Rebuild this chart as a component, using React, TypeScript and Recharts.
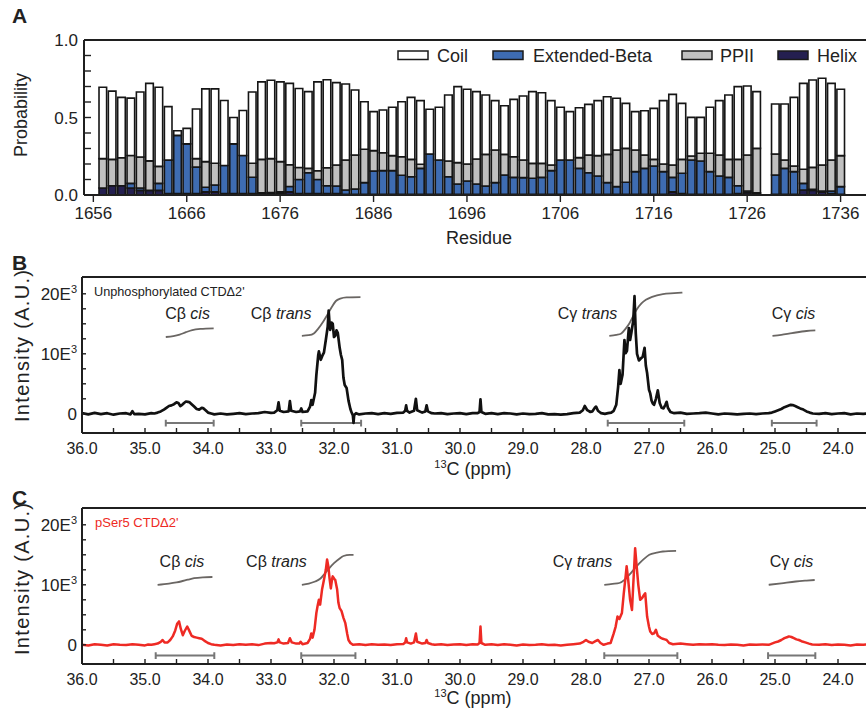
import React from 'react';
import { ComposedChart, Bar, Line, XAxis, YAxis, ReferenceLine, ReferenceDot } from 'recharts';

const FONT = '"Liberation Sans", Arial, Helvetica, sans-serif';
const INK = '#1f1f1f';

// ---------------- Panel A data ----------------
const RESIDUES = [
  1657, 1658, 1659, 1660, 1661, 1662, 1663, 1664, 1665, 1666, 1667, 1668, 1669, 1670, 1671, 1672, 1673, 1674, 1675, 1676,
  1677, 1678, 1679, 1680, 1681, 1682, 1683, 1684, 1685, 1686, 1687, 1688, 1689, 1690, 1691, 1692, 1693, 1694, 1695, 1696,
  1697, 1698, 1699, 1700, 1701, 1702, 1703, 1704, 1705, 1706, 1707, 1708, 1709, 1710, 1711, 1712, 1713, 1714, 1715, 1716,
  1717, 1718, 1719, 1720, 1721, 1722, 1723, 1724, 1725, 1726, 1727, 1729, 1730, 1731, 1732, 1733, 1734, 1735, 1736,
];
const HELIX = [
  0.045, 0.06, 0.06, 0.045, 0.03, 0.03, 0.03, 0.01, 0.01, 0.01, 0.01, 0.02, 0.02, 0.01, 0.01, 0.01, 0.01, 0.01, 0.01, 0.01,
  0.02, 0.01, 0.01, 0.01, 0.01, 0.01, 0.005, 0.005, 0.005, 0.005, 0.005, 0.005, 0.005, 0.005, 0.005, 0.005, 0.005, 0.005, 0.005, 0.005,
  0.005, 0.005, 0.005, 0.005, 0.005, 0.005, 0.005, 0.005, 0.005, 0.005, 0.005, 0.005, 0.005, 0.005, 0.005, 0.005, 0.005, 0.005, 0.005, 0.005,
  0.005, 0.02, 0.01, 0.005, 0.005, 0.005, 0.005, 0.005, 0.01, 0.015, 0.01, 0.005, 0.005, 0.005, 0.032, 0.03, 0.02, 0.01, 0.005,
];
const EXT_BETA = [
  0.0, 0.0, 0.0, 0.03, 0.015, 0.0, 0.045, 0.215, 0.375, 0.32, 0.17, 0.03, 0.045, 0.18, 0.32, 0.245, 0.105, 0.005, 0.005, 0.01,
  0.035, 0.09, 0.134, 0.09, 0.05, 0.048, 0.027, 0.034, 0.075, 0.15, 0.152, 0.152, 0.122, 0.113, 0.167, 0.26, 0.221, 0.113, 0.066, 0.085,
  0.066, 0.053, 0.075, 0.124, 0.109, 0.107, 0.103, 0.109, 0.152, 0.221, 0.221, 0.167, 0.139, 0.118, 0.075, 0.049, 0.077, 0.146, 0.167, 0.182,
  0.146, 0.094, 0.13, 0.221, 0.214, 0.146, 0.118, 0.109, 0.05, 0.011, 0.005, 0.124, 0.167, 0.146, 0.043, 0.007, 0.005, 0.016, 0.049,
];
const PPII = [
  0.19, 0.17, 0.18, 0.18, 0.2, 0.19, 0.11, 0.0, 0.0, 0.0, 0.055, 0.165, 0.14, 0.0, 0.0, 0.0, 0.09, 0.215, 0.22, 0.195,
  0.14, 0.077, 0.028, 0.056, 0.116, 0.136, 0.194, 0.219, 0.215, 0.131, 0.116, 0.097, 0.12, 0.112, 0.026, 0.0, 0.0, 0.101, 0.138, 0.11,
  0.161, 0.204, 0.21, 0.133, 0.133, 0.114, 0.096, 0.09, 0.037, 0.0, 0.0, 0.069, 0.114, 0.131, 0.182, 0.236, 0.219, 0.139, 0.086, 0.043,
  0.049, 0.08, 0.09, 0.026, 0.05, 0.118, 0.135, 0.116, 0.17, 0.232, 0.286, 0.136, 0.054, 0.036, 0.091, 0.141, 0.169, 0.2, 0.2,
];
const COIL = [
  0.46, 0.44, 0.39, 0.37, 0.42, 0.5, 0.51, 0.345, 0.03, 0.1, 0.32, 0.47, 0.48, 0.42, 0.17, 0.29, 0.46, 0.5, 0.505, 0.515,
  0.525, 0.51, 0.495, 0.574, 0.568, 0.531, 0.49, 0.419, 0.307, 0.252, 0.275, 0.312, 0.355, 0.4, 0.411, 0.288, 0.34, 0.426, 0.49, 0.482,
  0.435, 0.383, 0.319, 0.314, 0.37, 0.413, 0.463, 0.456, 0.415, 0.34, 0.312, 0.322, 0.327, 0.355, 0.372, 0.334, 0.29, 0.248, 0.286, 0.329,
  0.409, 0.455, 0.361, 0.249, 0.232, 0.297, 0.351, 0.415, 0.469, 0.445, 0.366, 0.322, 0.361, 0.443, 0.554, 0.564, 0.559, 0.494, 0.428,
];
const RESIDUE_TICKS = [1656, 1666, 1676, 1686, 1696, 1706, 1716, 1726, 1736];
const PROB_TICKS = [0, 0.1, 0.2, 0.3, 0.4, 0.5, 0.6, 0.7, 0.8, 0.9, 1.0];
const PROB_LABELED = [0, 0.5, 1.0];

const SERIES_COLORS = { coil: '#ffffff', beta: '#3e6cb2', ppii: '#c0c0c0', helix: '#241f50' };
const LEGEND_ITEMS = [
  { name: 'Coil', key: 'coil' },
  { name: 'Extended-Beta', key: 'beta' },
  { name: 'PPII', key: 'ppii' },
  { name: 'Helix', key: 'helix' },
];
const LEGEND_POS = [
  { sx: 398, tx: 437 },
  { sx: 493, tx: 533 },
  { sx: 682, tx: 720 },
  { sx: 778, tx: 817 },
];

// ---------------- Panels B / C data (ppm, intensity in 1E3 units) ----------------
const SPECTRUM_UNPHOS: [number, number][] = [
  [36.0, 0.1], [35.9, -0.1], [35.8, 0.15], [35.7, -0.05], [35.6, 0.1], [35.5, -0.15], [35.4, 0.05], [35.3, 0.1], [35.23, -0.1],
  [35.2, 0.45], [35.17, -0.05], [35.1, 0.0], [35.0, -0.1], [34.9, 0.1], [34.85, 0.05], [34.8, 0.2], [34.75, 0.4], [34.7, 0.7],
  [34.66, 1.0], [34.62, 1.3], [34.58, 1.4], [34.54, 1.6], [34.5, 1.9], [34.47, 1.8], [34.44, 1.3], [34.41, 1.5], [34.38, 1.8],
  [34.35, 2.05], [34.32, 2.0], [34.29, 1.9], [34.26, 1.6], [34.22, 1.2], [34.18, 0.8], [34.14, 0.7], [34.1, 1.0], [34.07, 0.9],
  [34.03, 0.5], [34.0, 0.2], [33.95, 0.05], [33.9, -0.1], [33.8, 0.05], [33.7, -0.1], [33.6, 0.0], [33.5, 0.1], [33.4, -0.05],
  [33.3, 0.05], [33.2, 0.1], [33.1, 0.3], [33.0, 0.15], [32.95, 0.2], [32.9, 0.6], [32.88, 1.9], [32.86, 0.5], [32.8, 0.3],
  [32.72, 0.4], [32.7, 2.1], [32.68, 0.5], [32.6, 0.3], [32.54, 0.4], [32.52, 0.9], [32.5, 0.3], [32.42, 0.4], [32.38, 1.2],
  [32.36, 2.3], [32.34, 1.5], [32.3, 3.5], [32.28, 6.5], [32.25, 9.8], [32.24, 10.4], [32.21, 9.0], [32.18, 9.8], [32.16, 10.2],
  [32.13, 12.3], [32.1, 14.5], [32.085, 17.2], [32.07, 15.0], [32.06, 14.0], [32.04, 15.2], [32.02, 15.0], [32.0, 12.8],
  [31.98, 13.0], [31.96, 13.9], [31.94, 13.5], [31.91, 11.0], [31.89, 9.8], [31.87, 9.0], [31.85, 6.0], [31.83, 4.8], [31.8, 4.3],
  [31.77, 2.2], [31.74, 0.8], [31.72, 0.2], [31.7, -0.3], [31.69, -1.5], [31.68, -0.2], [31.65, 0.1], [31.6, -0.1], [31.5, 0.05],
  [31.4, 0.1], [31.3, -0.05], [31.2, 0.1], [31.1, 0.0], [31.0, 0.15], [30.9, 0.2], [30.87, 0.5], [30.855, 1.4], [30.84, 0.5],
  [30.8, 0.2], [30.73, 0.5], [30.7, 2.5], [30.68, 0.6], [30.6, 0.2], [30.55, 0.4], [30.53, 1.4], [30.51, 0.4], [30.45, 0.1],
  [30.4, 0.05], [30.3, 0.1], [30.2, -0.05], [30.1, 0.05], [30.0, 0.1], [29.9, -0.05], [29.8, 0.1], [29.72, 0.1], [29.69, 0.3],
  [29.675, 2.4], [29.66, 0.3], [29.6, 0.0], [29.5, 0.1], [29.4, -0.05], [29.3, 0.1], [29.2, 0.05], [29.1, -0.1], [29.0, 0.05],
  [28.9, -0.05], [28.8, 0.0], [28.7, 0.1], [28.6, -0.1], [28.5, -0.05], [28.4, -0.15], [28.3, -0.05], [28.2, 0.1], [28.1, 0.2],
  [28.05, 0.6], [28.02, 1.3], [27.98, 0.6], [27.93, 0.3], [27.9, 0.4], [27.86, 1.0], [27.84, 1.2], [27.81, 0.5], [27.76, 0.1],
  [27.7, 0.0], [27.65, 0.1], [27.6, 0.2], [27.56, 0.5], [27.52, 1.5], [27.49, 4.5], [27.47, 7.3], [27.45, 5.0], [27.42, 6.5],
  [27.39, 12.3], [27.37, 10.1], [27.35, 10.5], [27.32, 14.3], [27.3, 12.3], [27.28, 13.5], [27.25, 15.5], [27.23, 19.6],
  [27.21, 13.4], [27.19, 10.0], [27.16, 8.9], [27.13, 9.2], [27.1, 9.5], [27.07, 11.0], [27.05, 8.0], [27.03, 6.8], [27.0, 4.0],
  [26.98, 3.4], [26.96, 2.2], [26.94, 1.7], [26.92, 1.5], [26.89, 2.5], [26.86, 3.9], [26.83, 1.8], [26.8, 1.0], [26.77, 0.9],
  [26.74, 1.5], [26.72, 2.0], [26.7, 1.0], [26.66, 0.3], [26.6, 0.1], [26.5, 0.2], [26.4, 0.0], [26.3, 0.05], [26.2, 0.1],
  [26.1, 0.2], [26.0, 0.05], [25.9, -0.1], [25.8, 0.05], [25.7, 0.0], [25.6, -0.1], [25.5, 0.0], [25.4, 0.05], [25.3, -0.05],
  [25.2, 0.05], [25.1, 0.1], [25.05, 0.2], [25.0, 0.4], [24.95, 0.6], [24.9, 0.8], [24.85, 1.1], [24.8, 1.3], [24.75, 1.5],
  [24.72, 1.45], [24.68, 1.3], [24.64, 1.1], [24.6, 0.9], [24.55, 0.7], [24.5, 0.4], [24.45, 0.2], [24.4, 0.05], [24.3, 0.0],
  [24.2, 0.1], [24.1, -0.05], [24.0, 0.05], [23.9, 0.1], [23.8, -0.1], [23.7, 0.05], [23.6, 0.0], [23.5, 0.1], [23.4, 0.0],
];
const SPECTRUM_PSER5: [number, number][] = [
  [36.0, 0.0], [35.9, -0.1], [35.8, 0.1], [35.7, 0.0], [35.6, -0.1], [35.5, 0.1], [35.4, 0.0], [35.3, -0.05], [35.2, 0.1],
  [35.1, 0.0], [35.0, -0.1], [34.95, 0.05], [34.9, 0.0], [34.85, 0.1], [34.8, 0.2], [34.75, 0.5], [34.72, 0.8], [34.69, 0.4],
  [34.64, 0.4], [34.6, 0.8], [34.56, 1.4], [34.52, 2.4], [34.49, 3.5], [34.46, 3.9], [34.43, 2.6], [34.4, 1.6], [34.37, 2.3],
  [34.33, 3.05], [34.3, 2.4], [34.26, 1.5], [34.22, 1.3], [34.18, 1.2], [34.14, 1.1], [34.1, 1.0], [34.06, 0.7], [34.0, 0.3],
  [33.95, 0.1], [33.9, 0.0], [33.8, -0.1], [33.7, 0.05], [33.6, -0.05], [33.5, 0.1], [33.4, 0.0], [33.3, 0.1], [33.2, -0.05],
  [33.1, 0.2], [33.0, 0.3], [32.95, 0.25], [32.9, 0.4], [32.88, 0.9], [32.86, 0.4], [32.8, 0.2], [32.73, 0.3], [32.7, 1.1],
  [32.67, 0.4], [32.6, 0.2], [32.55, 0.2], [32.53, 0.5], [32.5, 0.1], [32.42, 0.3], [32.38, 1.0], [32.36, 1.9], [32.34, 1.2],
  [32.31, 2.5], [32.28, 5.3], [32.26, 6.5], [32.24, 7.5], [32.22, 6.7], [32.19, 9.2], [32.16, 10.8], [32.13, 12.5], [32.11, 14.2],
  [32.09, 13.1], [32.07, 11.0], [32.05, 9.4], [32.03, 11.0], [32.02, 11.4], [31.99, 10.9], [31.98, 10.8], [31.95, 9.2],
  [31.93, 7.0], [31.91, 6.1], [31.88, 5.6], [31.85, 4.5], [31.82, 3.6], [31.79, 1.8], [31.77, 0.8], [31.74, 0.3], [31.7, 0.0],
  [31.6, 0.1], [31.5, -0.05], [31.4, 0.1], [31.3, 0.0], [31.2, 0.05], [31.1, -0.05], [31.0, 0.1], [30.9, 0.15], [30.87, 0.4],
  [30.855, 1.1], [30.84, 0.4], [30.78, 0.2], [30.73, 0.4], [30.7, 1.9], [30.68, 0.5], [30.6, 0.2], [30.55, 0.3], [30.53, 0.8],
  [30.51, 0.3], [30.45, 0.1], [30.4, 0.0], [30.3, 0.1], [30.2, -0.05], [30.1, 0.05], [30.0, 0.1], [29.9, -0.05], [29.8, 0.1],
  [29.72, 0.05], [29.69, 0.3], [29.675, 3.05], [29.66, 0.3], [29.6, 0.0], [29.5, 0.1], [29.4, -0.05], [29.3, 0.1], [29.2, 0.0],
  [29.1, -0.1], [29.0, 0.05], [28.9, -0.05], [28.8, 0.0], [28.7, 0.1], [28.6, -0.05], [28.5, 0.0], [28.4, -0.1], [28.3, 0.0],
  [28.2, 0.1], [28.1, 0.2], [28.04, 0.5], [28.0, 0.8], [27.96, 0.5], [27.9, 0.3], [27.85, 0.6], [27.81, 0.8], [27.77, 0.3],
  [27.72, 0.0], [27.66, 0.2], [27.61, 0.3], [27.56, 1.9], [27.53, 3.0], [27.5, 4.7], [27.47, 4.3], [27.43, 5.3], [27.4, 8.6],
  [27.37, 11.5], [27.355, 13.1], [27.33, 10.8], [27.3, 7.5], [27.27, 5.8], [27.25, 10.0], [27.22, 16.1], [27.2, 13.6],
  [27.17, 10.0], [27.14, 7.5], [27.11, 7.8], [27.08, 8.3], [27.06, 8.6], [27.03, 4.7], [27.0, 3.0], [26.98, 2.2], [26.95, 1.8],
  [26.92, 1.9], [26.89, 2.5], [26.86, 1.5], [26.82, 1.2], [26.78, 1.0], [26.75, 0.9], [26.72, 0.8], [26.68, 0.3], [26.62, 0.1],
  [26.5, 0.2], [26.4, 0.1], [26.3, 0.0], [26.2, 0.1], [26.1, 0.05], [26.0, 0.1], [25.9, 0.0], [25.8, -0.05], [25.7, 0.05],
  [25.6, 0.0], [25.5, -0.1], [25.4, 0.05], [25.3, 0.0], [25.2, 0.05], [25.1, 0.0], [25.05, 0.2], [25.0, 0.4], [24.95, 0.55],
  [24.9, 0.8], [24.85, 1.1], [24.8, 1.3], [24.78, 1.4], [24.74, 1.3], [24.7, 1.1], [24.66, 0.9], [24.62, 0.8], [24.58, 0.6],
  [24.52, 0.4], [24.46, 0.2], [24.41, 0.05], [24.3, 0.0], [24.2, 0.1], [24.1, -0.05], [24.0, 0.05], [23.9, 0.0], [23.8, -0.1],
  [23.7, 0.05], [23.6, 0.0], [23.5, 0.1], [23.4, 0.0],
];

const INTEGRALS_UNPHOS: [number, number][][] = [
  [[34.67, 12.8], [34.55, 12.95], [34.45, 13.2], [34.35, 13.6], [34.25, 13.95], [34.12, 14.15], [33.91, 14.25]],
  [[32.51, 13.0], [32.4, 13.1], [32.32, 13.4], [32.25, 14.2], [32.17, 15.4], [32.1, 16.6], [32.03, 17.9], [31.97, 18.8], [31.9, 19.2], [31.8, 19.4], [31.58, 19.45]],
  [[27.63, 13.0], [27.52, 13.15], [27.44, 13.4], [27.37, 14.2], [27.31, 15.1], [27.25, 16.3], [27.2, 17.3], [27.12, 18.4], [27.05, 19.0], [26.95, 19.5], [26.78, 19.95], [26.6, 20.1], [26.47, 20.2]],
  [[25.04, 13.0], [24.9, 13.15], [24.78, 13.35], [24.67, 13.55], [24.5, 13.8], [24.36, 13.9]],
];
const INTEGRALS_PSER5: [number, number][][] = [
  [[34.8, 10.0], [34.62, 10.2], [34.5, 10.4], [34.43, 10.55], [34.32, 10.85], [34.22, 11.1], [34.08, 11.25], [33.93, 11.3]],
  [[32.51, 10.0], [32.4, 10.2], [32.3, 10.55], [32.22, 11.0], [32.16, 11.7], [32.08, 12.7], [32.0, 13.6], [31.92, 14.3], [31.85, 14.8], [31.75, 15.0], [31.69, 15.0]],
  [[27.71, 10.0], [27.58, 10.15], [27.47, 10.3], [27.38, 10.9], [27.31, 11.7], [27.22, 12.8], [27.15, 13.6], [27.07, 14.4], [26.995, 15.0], [26.88, 15.35], [26.78, 15.55], [26.57, 15.65]],
  [[25.1, 10.0], [24.9, 10.25], [24.67, 10.55], [24.5, 10.7], [24.37, 10.8]],
];
const RANGES_UNPHOS: [number, number][] = [[34.67, 33.91], [32.52, 31.57], [27.655, 26.44], [25.05, 24.34]];
const RANGES_PSER5: [number, number][] = [[34.83, 33.9], [32.52, 31.66], [27.71, 26.55], [25.11, 24.36]];
const RANGE_LEVEL_UNPHOS = -1.55;
const RANGE_LEVEL_PSER5 = -1.8;

const NOTE_TEXT = [
  { main: 'C\u03b2 ', ital: 'cis' },
  { main: 'C\u03b2 ', ital: 'trans' },
  { main: 'C\u03b3 ', ital: 'trans' },
  { main: 'C\u03b3 ', ital: 'cis' },
];
const NOTE_PPM_UNPHOS = [34.325, 32.84, 27.976, 24.706];
const NOTE_PPM_PSER5 = [34.413, 32.913, 28.056, 24.738];
const NOTE_LEVEL_UNPHOS = 16.8;
const NOTE_LEVEL_PSER5 = 13.9;

const PPM_TICKS = [36, 35.5, 35, 34.5, 34, 33.5, 33, 32.5, 32, 31.5, 31, 30.5, 30, 29.5, 29, 28.5, 28, 27.5, 27, 26.5, 26, 25.5, 25, 24.5, 24];
const INTENSITY_TICKS = [0, 2500, 5000, 7500, 10000, 12500, 15000, 17500, 20000];
const INTENSITY_TICK_LABELS = [
  { value: 0, base: '0', sup: '' },
  { value: 10000, base: '10E', sup: '3' },
  { value: 20000, base: '20E', sup: '3' },
];
const PPM_DOMAIN: [number, number] = [23.4, 36];
const INTENSITY_DOMAIN: [number, number] = [-3200, 22800];

// ---------------- helpers ----------------
const toPoints = (pairs: [number, number][], key: string) =>
  pairs.map(([p, v]) => ({ ppm: p, [key]: v * 1000 }));

const rangePoints = (range: [number, number], level: number) => {
  const y = level * 1000;
  const cap = 550;
  return [
    { ppm: range[0], v: y + cap },
    { ppm: range[0], v: y - cap },
    { ppm: range[0], v: y },
    { ppm: range[1], v: y },
    { ppm: range[1], v: y + cap },
    { ppm: range[1], v: y - cap },
  ];
};

const IntensityTick = (props: any) => {
  const { x, y, payload } = props;
  const t = INTENSITY_TICK_LABELS.find((d) => d.value === payload.value);
  if (!t) return <g />;
  return (
    <text x={x} y={y} dy={6} textAnchor="end" fontSize={17} fontFamily={FONT} fill="#222">
      {t.base}
      {t.sup ? (
        <tspan dy={-7} fontSize={11}>
          {t.sup}
        </tspan>
      ) : null}
    </text>
  );
};

const NoteLabel = (props: any) => {
  const vb = props.viewBox || {};
  const x = (vb.x || 0) + (vb.width || 0) / 2;
  const y = (vb.y || 0) + (vb.height || 0) / 2;
  return (
    <text x={x} y={y} dy={5.5} textAnchor="middle" fontSize={16} fontFamily={FONT} fill="#222">
      {props.main}
      <tspan fontStyle="italic">{props.ital}</tspan>
    </text>
  );
};

function SpectrumPanel(props: {
  top: number;
  marginTop: number;
  marginBottom: number;
  spectrum: [number, number][];
  color: string;
  lineWidth: number;
  integrals: [number, number][][];
  ranges: [number, number][];
  rangeLevel: number;
  notePpm: number[];
  noteLevel: number;
}) {
  const data = toPoints(props.spectrum, 'i');
  return (
    <div style={{ position: 'absolute', left: 0, top: props.top, width: 900, height: 230 }}>
      <ComposedChart
        width={900}
        height={230}
        data={data}
        margin={{ top: props.marginTop, right: 24.2, bottom: props.marginBottom, left: 22 }}
      >
        <XAxis
          dataKey="ppm"
          type="number"
          domain={PPM_DOMAIN}
          reversed
          allowDataOverflow
          ticks={PPM_TICKS}
          interval={0}
          height={30}
          tickSize={-5}
          tickMargin={15}
          tickFormatter={(v: number) => (Number.isInteger(v) ? v.toFixed(1) : '')}
          tick={{ fontSize: 16, fill: '#222', fontFamily: FONT }}
          axisLine={{ stroke: INK, strokeWidth: 2 }}
          tickLine={{ stroke: INK, strokeWidth: 1.4 }}
        />
        <YAxis
          type="number"
          domain={INTENSITY_DOMAIN}
          allowDataOverflow
          ticks={INTENSITY_TICKS}
          interval={0}
          width={60}
          tickSize={-4}
          tickMargin={9}
          tick={<IntensityTick />}
          axisLine={{ stroke: INK, strokeWidth: 2 }}
          tickLine={{ stroke: INK, strokeWidth: 1.4 }}
        />
        <ReferenceLine y={INTENSITY_DOMAIN[1]} stroke={INK} strokeWidth={2} />
        {props.ranges.map((r, k) => (
          <Line
            key={'r' + k}
            data={rangePoints(r, props.rangeLevel)}
            dataKey="v"
            type="linear"
            stroke="#777777"
            strokeWidth={2}
            dot={false}
            isAnimationActive={false}
          />
        ))}
        {props.integrals.map((seg, k) => (
          <Line
            key={'g' + k}
            data={toPoints(seg, 'v')}
            dataKey="v"
            type="monotone"
            stroke="#6a6663"
            strokeWidth={1.8}
            dot={false}
            isAnimationActive={false}
          />
        ))}
        <Line
          dataKey="i"
          type="linear"
          stroke={props.color}
          strokeWidth={props.lineWidth}
          strokeLinejoin="round"
          dot={false}
          isAnimationActive={false}
        />
        {props.notePpm.map((p, k) => (
          <ReferenceDot
            key={'n' + k}
            x={p}
            y={props.noteLevel * 1000}
            r={0}
            stroke="none"
            fill="none"
            label={(lp: any) => <NoteLabel viewBox={lp.viewBox} main={NOTE_TEXT[k].main} ital={NOTE_TEXT[k].ital} />}
          />
        ))}
      </ComposedChart>
    </div>
  );
}

function ProbabilityPanel() {
  const data = RESIDUES.map((r, k) => ({
    residue: r,
    helix: HELIX[k],
    beta: EXT_BETA[k],
    ppii: PPII[k],
    coil: COIL[k],
  }));
  const barProps = { stackId: 's', barSize: 7.6, stroke: '#151515', strokeWidth: 1.6, isAnimationActive: false };
  return (
    <div style={{ position: 'absolute', left: 0, top: 0, width: 900, height: 260 }}>
      <ComposedChart width={900} height={260} data={data} margin={{ top: 40, right: 31.4, bottom: 35, left: 24 }}>
        <XAxis
          dataKey="residue"
          type="number"
          domain={[1655, 1739]}
          allowDataOverflow
          ticks={RESIDUE_TICKS}
          interval={0}
          height={30}
          tickSize={7}
          tickMargin={5}
          tick={{ fontSize: 17, fill: '#222', fontFamily: FONT }}
          axisLine={{ stroke: INK, strokeWidth: 2 }}
          tickLine={{ stroke: INK, strokeWidth: 1.4 }}
        />
        <YAxis
          type="number"
          domain={[0, 1]}
          ticks={PROB_TICKS}
          interval={0}
          width={60}
          tickSize={-7}
          tickMargin={13}
          tickFormatter={(v: number) => (PROB_LABELED.some((p) => Math.abs(p - v) < 1e-9) ? v.toFixed(1) : '')}
          tick={{ fontSize: 17, fill: '#222', fontFamily: FONT }}
          axisLine={{ stroke: INK, strokeWidth: 2 }}
          tickLine={{ stroke: INK, strokeWidth: 1.4 }}
        />
        <ReferenceLine y={1} stroke={INK} strokeWidth={2} />
        <Bar dataKey="helix" name="Helix" fill={SERIES_COLORS.helix} {...barProps} />
        <Bar dataKey="beta" name="Extended-Beta" fill={SERIES_COLORS.beta} {...barProps} />
        <Bar dataKey="ppii" name="PPII" fill={SERIES_COLORS.ppii} {...barProps} />
        <Bar dataKey="coil" name="Coil" fill={SERIES_COLORS.coil} {...barProps} />
      </ComposedChart>
    </div>
  );
}

function Overlay() {
  const t = { fontFamily: FONT, fill: '#222' } as const;
  return (
    <svg width={866} height={717} style={{ position: 'absolute', left: 0, top: 0, pointerEvents: 'none' }}>
      <text x={12} y={23} fontSize={21} fontWeight="bold" {...t}>A</text>
      <text x={12} y={270} fontSize={21} fontWeight="bold" {...t}>B</text>
      <text x={12} y={505} fontSize={21} fontWeight="bold" {...t}>C</text>

      <text transform="translate(27,115) rotate(-90)" textAnchor="middle" fontSize={18} {...t}>Probability</text>
      <text x={479} y={244} textAnchor="middle" fontSize={18} {...t}>Residue</text>

      {LEGEND_ITEMS.map((it, k) => (
        <g key={it.name}>
          <rect
            x={LEGEND_POS[k].sx}
            y={51}
            width={30}
            height={8.5}
            fill={(SERIES_COLORS as any)[it.key]}
            stroke="#1a1a1a"
            strokeWidth={1.5}
          />
          <text x={LEGEND_POS[k].tx} y={61.5} fontSize={18} {...t}>{it.name}</text>
        </g>
      ))}

      <text transform="translate(29,346) rotate(-90)" textAnchor="middle" fontSize={20} textLength={152} lengthAdjust="spacing" {...t}>Intensity (A.U.)</text>
      <text transform="translate(29,579) rotate(-90)" textAnchor="middle" fontSize={20} textLength={152} lengthAdjust="spacing" {...t}>Intensity (A.U.)</text>

      <text x={473} y={475} textAnchor="middle" fontSize={18} {...t}>
        <tspan fontSize={11} dy={-7}>13</tspan>
        <tspan dy={7}>C (ppm)</tspan>
      </text>
      <text x={473} y={704} textAnchor="middle" fontSize={18} {...t}>
        <tspan fontSize={11} dy={-7}>13</tspan>
        <tspan dy={7}>C (ppm)</tspan>
      </text>

      <text x={94} y={295.5} fontSize={12.7} {...t}>Unphosphorylated CTD{'\u0394'}2'</text>
      <text x={95} y={526.5} fontSize={13} fontFamily={FONT} fill="#ee2a24">pSer5 CTD{'\u0394'}2'</text>
    </svg>
  );
}

export default function App() {
  return (
    <div
      style={{
        position: 'absolute',
        left: 0,
        top: 0,
        width: 866,
        height: 717,
        overflow: 'hidden',
        background: '#ffffff',
        fontFamily: FONT,
      }}
    >
      <ProbabilityPanel />
      <SpectrumPanel
        top={250}
        marginTop={27}
        marginBottom={17}
        spectrum={SPECTRUM_UNPHOS}
        color="#111111"
        lineWidth={2.7}
        integrals={INTEGRALS_UNPHOS}
        ranges={RANGES_UNPHOS}
        rangeLevel={RANGE_LEVEL_UNPHOS}
        notePpm={NOTE_PPM_UNPHOS}
        noteLevel={NOTE_LEVEL_UNPHOS}
      />
      <SpectrumPanel
        top={480}
        marginTop={28}
        marginBottom={16}
        spectrum={SPECTRUM_PSER5}
        color="#ee2a24"
        lineWidth={2.5}
        integrals={INTEGRALS_PSER5}
        ranges={RANGES_PSER5}
        rangeLevel={RANGE_LEVEL_PSER5}
        notePpm={NOTE_PPM_PSER5}
        noteLevel={NOTE_LEVEL_PSER5}
      />
      <Overlay />
    </div>
  );
}
